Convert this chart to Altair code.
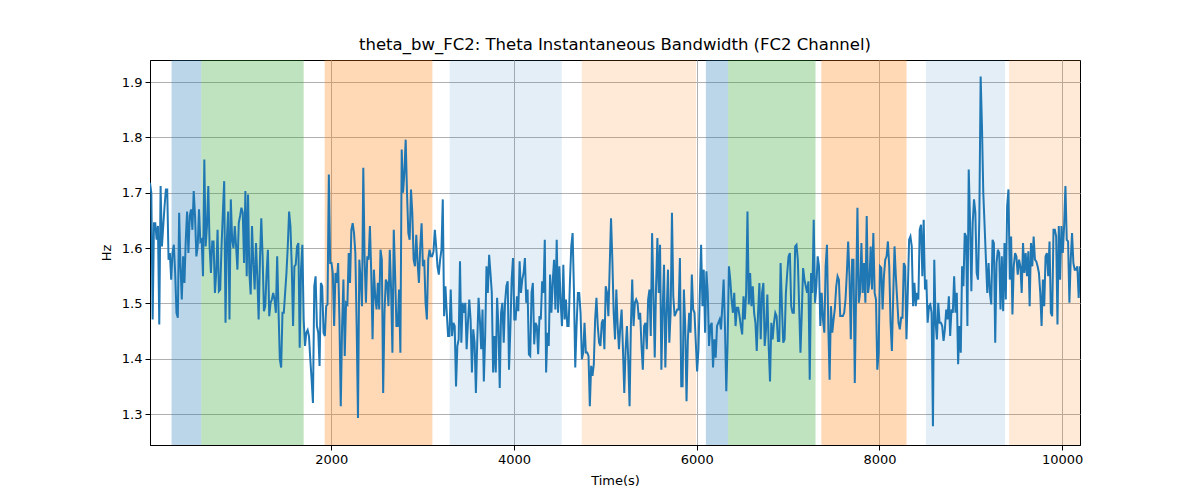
import altair as alt
import numpy as np
import pandas as pd

seg1 = [1.718,1.700,1.471,1.645,1.645,1.615,1.640,1.462,1.712,1.603,
        1.640,1.676,1.706,1.706,1.579,1.591,1.543,1.591,1.606,1.555,
        1.483,1.474,1.664,1.567,1.507,1.585,1.537,1.615,1.666,1.591,
        1.658,1.670,1.633,1.703,1.658,1.585,1.603,1.670,1.612,1.615,
        1.549,1.760,1.603,1.640,1.712,1.603,1.555,1.612,1.612,1.519,
        1.555,1.633,1.522,1.525,1.603,1.664,1.721,1.465,1.615,1.666,
        1.471,1.688,1.615,1.600,1.640,1.603,1.561,1.645,1.658,1.673,
        1.664,1.573,1.703,1.549,1.697,1.555,1.516,1.640,1.573,1.525,
        1.609,1.549,1.471,1.579,1.654,1.585,1.486,1.495,1.555,1.597,
        1.477,1.501,1.507,1.519,1.507,1.483,1.585,1.489,1.399,1.384,
        1.483,1.483,1.519,1.555,1.603,1.666,1.640,1.567]
seg2 = [1.459,1.567,1.570,1.603,1.609,1.420,1.561,1.606,1.471,1.423,
        1.447,1.452,1.441,1.399,1.362,1.320,1.531,1.549,1.459,1.447,
        1.387,1.537,1.531,1.447,1.441,1.495,1.498,1.733,1.573,1.573,
        1.555,1.459,1.555,1.537,1.573,1.471,1.314,1.459,1.543,1.405,
        1.501,1.498,1.591,1.537,1.633,1.645,1.627,1.591,1.459,1.293,
        1.579,1.543,1.495,1.745,1.579,1.501,1.585,1.579,1.640,1.555,
        1.435,1.561,1.513,1.489,1.537,1.489,1.597,1.579,1.338,1.483,
        1.543,1.537,1.495,1.597,1.525,1.411,1.633,1.555,1.459,1.459,
        1.525,1.411,1.778,1.700,1.736,1.796,1.700,1.627,1.615,1.706,
        1.664,1.579,1.567,1.624,1.573,1.537,1.603,1.645,1.567,1.579,
        1.501,1.471,1.579,1.597,1.585,1.585,1.594,1.633,1.603,1.567,
        1.552,1.579,1.597,1.688,1.477,1.531,1.483,1.441]
seg3 = [1.441,1.525,1.441,1.465,1.459,1.350,1.423,1.435,1.576,1.429,
        1.501,1.483,1.501,1.417,1.465,1.507,1.471,1.375,1.453,1.429,
        1.338,1.429,1.510,1.471,1.417,1.489,1.359,1.441,1.567,1.519,
        1.588,1.555,1.519,1.375,1.441,1.375,1.510,1.459,1.347,1.483,
        1.501,1.429,1.501,1.531,1.540,1.380,1.453,1.543,1.582,1.471,
        1.471,1.513,1.486,1.576,1.519,1.543,1.555,1.582,1.501,1.525,
        1.408,1.405,1.519,1.537,1.426,1.465,1.459,1.408,1.477,1.471,
        1.540,1.519,1.615,1.375,1.447,1.423,1.552,1.483,1.540,1.579,
        1.489,1.615,1.483,1.567,1.501,1.459,1.570,1.471,1.507,1.459,
        1.459,1.540,1.603,1.627,1.525,1.384,1.459,1.519,1.519,1.483,
        1.399,1.411,1.465,1.411,1.411,1.405,1.314,1.387,1.369,1.390,
        1.471,1.510,1.459,1.429,1.423,1.465,1.471]
seg4 = [1.417,1.531,1.519,1.477,1.567,1.654,1.579,1.483,1.435,1.525,
        1.459,1.417,1.459,1.489,1.417,1.338,1.417,1.459,1.399,1.314,
        1.459,1.543,1.459,1.501,1.507,1.501,1.471,1.483,1.423,1.380,
        1.459,1.465,1.417,1.507,1.525,1.441,1.627,1.519,1.402,1.531,
        1.618,1.519,1.606,1.380,1.489,1.570,1.384,1.483,1.561,1.429,
        1.483,1.664,1.513,1.477,1.483,1.489,1.489,1.582,1.350,1.350,
        1.525,1.459,1.323,1.435,1.483,1.447,1.552,1.489,1.483,1.429,
        1.377,1.417,1.513,1.606,1.495,1.561,1.447,1.558,1.519,1.423,
        1.459,1.465,1.384,1.435,1.402,1.459,1.465,1.471,1.453,1.495,
        1.543,1.459,1.341,1.429,1.567,1.543,1.507,1.483,1.519,1.459,
        1.492,1.492,1.477,1.459,1.444,1.513,1.471,1.519,1.666,1.498,
        1.555,1.495,1.531,1.483,1.465,1.414,1.483]
seg5 = [1.537,1.435,1.519,1.537,1.423,1.453,1.516,1.423,1.359,1.465,
        1.435,1.465,1.483,1.477,1.432,1.432,1.573,1.495,1.429,1.435,
        1.519,1.555,1.585,1.591,1.495,1.483,1.483,1.603,1.606,1.579,
        1.495,1.411,1.483,1.564,1.543,1.531,1.519,1.540,1.362,1.555,
        1.519,1.651,1.501,1.531,1.585,1.567,1.459,1.519,1.471,1.447,
        1.567,1.606,1.459,1.362,1.495,1.447,1.471,1.492,1.531,1.549,
        1.543,1.477,1.477,1.477,1.483,1.507,1.555,1.612,1.549,1.435,
        1.579,1.579,1.356,1.519,1.673,1.501,1.519,1.609,1.519,1.573,
        1.501,1.658,1.519,1.537,1.603,1.525,1.627,1.519,1.507,1.380,
        1.411,1.567,1.564,1.489,1.549,1.579,1.585,1.612,1.567,1.465,
        1.414,1.513,1.603,1.549,1.507,1.465,1.453,1.474,1.474,1.573,
        1.567,1.435,1.519,1.615,1.621,1.603,1.495,1.537]
seg6 = [1.495,1.519,1.507,1.633,1.642,1.549,1.651,1.525,1.543,1.465,
        1.495,1.498,1.483,1.278,1.579,1.465,1.435,1.501,1.465,1.465,
        1.459,1.432,1.453,1.489,1.471,1.513,1.441,1.489,1.483,1.549,
        1.483,1.519,1.390,1.459,1.411,1.567,1.531,1.627,1.621,1.459,
        1.742,1.651,1.522,1.645,1.688,1.664,1.555,1.543,1.651,1.910,
        1.820,1.700,1.640,1.579,1.519,1.573,1.519,1.498,1.615,1.609,
        1.429,1.573,1.597,1.591,1.489,1.585,1.486,1.609,1.507,1.676,
        1.706,1.543,1.621,1.480,1.567,1.591,1.585,1.552,1.579,1.567,
        1.519,1.609,1.555,1.591,1.549,1.594,1.495,1.609,1.567,1.621,
        1.579,1.576,1.567,1.555,1.519,1.459,1.543,1.495,1.585,1.591,
        1.549,1.612,1.483,1.477,1.633,1.633,1.621,1.462,1.640,1.543,
        1.640,1.591,1.640,1.712,1.615,1.612,1.501,1.579,1.627,1.573,
        1.561,1.561,1.567,1.510,1.567]

values = seg1 + seg2 + seg3 + seg4 + seg5 + seg6
t_start, t_end = 15, 10195
times = np.linspace(t_start, t_end, len(values))

band_start = [251, 577, 1927, 3295, 4741, 6100, 6343, 7363, 8508, 9418]
band_end   = [577, 1697, 3106, 4522, 5992, 6343, 7300, 8296, 9374, 10195]
band_color = ["#1f77b4", "#2ca02c", "#ff7f0e", "#1f77b4", "#ff7f0e",
              "#1f77b4", "#2ca02c", "#ff7f0e", "#1f77b4", "#ff7f0e"]
band_alpha = [0.3, 0.3, 0.3, 0.12, 0.16, 0.3, 0.3, 0.3, 0.12, 0.16]

x_ticks = [2000, 4000, 6000, 8000, 10000]
y_ticks = [1.3, 1.4, 1.5, 1.6, 1.7, 1.8, 1.9]

line_df = pd.DataFrame({"t": times, "v": values})
band_df = pd.DataFrame({"s": band_start, "e": band_end, "c": band_color, "a": band_alpha})

xscale = alt.Scale(domain=[t_start, t_end], nice=False, zero=False)
yscale = alt.Scale(domain=[1.244, 1.94], nice=False, zero=False)

bands = alt.Chart(band_df).mark_rect(clip=True).encode(
    x=alt.X("s:Q", scale=xscale),
    x2="e:Q",
    color=alt.Color("c:N", scale=None),
    opacity=alt.Opacity("a:Q", scale=None),
)

line = alt.Chart(line_df).mark_line(color="#1f77b4", strokeWidth=2, clip=True).encode(
    x=alt.X("t:Q", scale=xscale,
            axis=alt.Axis(values=x_ticks, format="d", title="Time(s)")),
    y=alt.Y("v:Q", scale=yscale,
            axis=alt.Axis(values=y_ticks, format=".1f", title="Hz")),
)

chart = alt.layer(bands, line).properties(
    width=930,
    height=385,
    autosize=alt.AutoSizeParams(type="none"),
    padding={"left": 142, "top": 52, "right": 112, "bottom": 47},
    title=alt.Title("theta_bw_FC2: Theta Instantaneous Bandwidth (FC2 Channel)",
                    font="DejaVu Sans", fontSize=16.5, fontWeight="normal",
                    color="black", offset=7),
).configure_view(
    stroke="black", strokeWidth=1
).configure_axis(
    labelFont="DejaVu Sans", titleFont="DejaVu Sans",
    labelFontSize=13, titleFontSize=13,
    labelColor="black", titleColor="black",
    titleFontWeight="normal",
    grid=True, gridColor="#b0b0b0", gridWidth=1,
    domainColor="black", tickColor="black", tickSize=5,
    labelPadding=3,
).configure_axisX(titlePadding=8).configure_axisY(titlePadding=8)

chart.save("out.html", embed_options={"renderer": "svg", "actions": False})
